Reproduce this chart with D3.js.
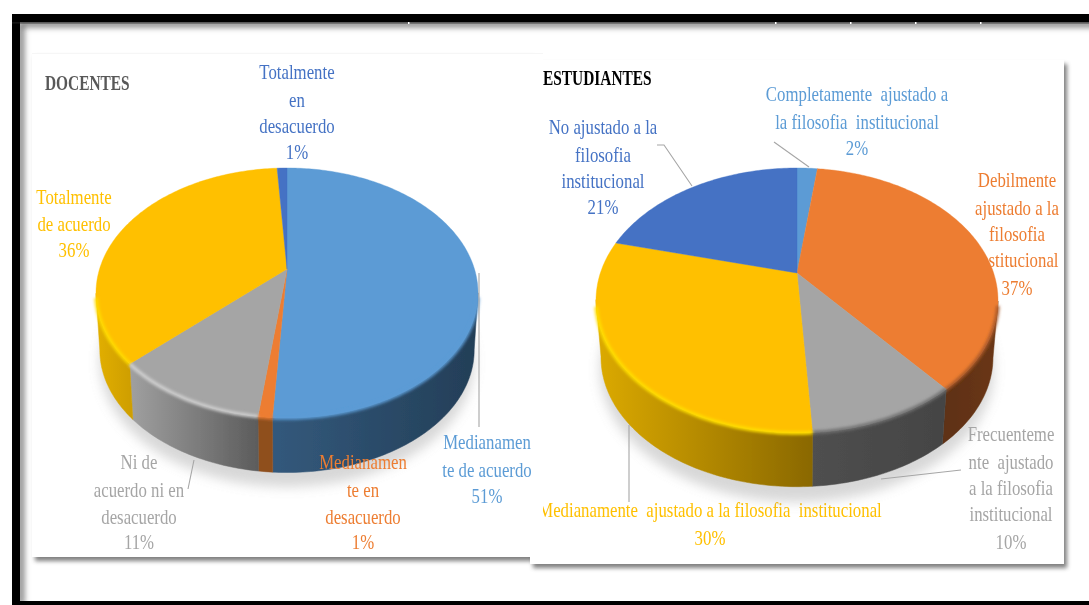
<!DOCTYPE html>
<html><head><meta charset="utf-8">
<style>html,body{margin:0;padding:0;background:#fff;overflow:hidden}svg{display:block}
text{font-family:"Liberation Serif",serif}</style>
<script src="https://cdn.jsdelivr.net/npm/d3@7"></script></head><body>
<script>
// ---- data ----
const docentesValues = [51, 1, 11, 36, 1];
const docentesColors = ["#5b9bd5", "#ed7d31", "#a5a5a5", "#ffc000", "#4472c4"];
const docentesLabelColors = ["#5b9bd5", "#ed7d31", "#a5a5a5", "#ffc000", "#4472c4"];
const docentesSides = [["#33597c","#233e57"],["#8f4f1e","#8f4f1e"],["#a0a0a0","#5c5c5c"],["#e2af00","#cf9f00"],["#2a4678","#2a4678"]];
const docentesRims = ["#5b9bd5","#ed7d31","#d0d0d0","#ffdc00","#4472c4"];
const docentesLabels = [
  ["Medianamen","te de acuerdo","51%"],
  ["Medianamen","te en","desacuerdo","1%"],
  ["Ni de","acuerdo ni en","desacuerdo","11%"],
  ["Totalmente","de acuerdo","36%"],
  ["Totalmente","en","desacuerdo","1%"]];
const docentesLabelX = [487, 363, 139, 74, 297];
const docentesLabelY = [[442,470,496],[462,490,517,542],[462,490,517,542],[197,224,250],[72,100,126,152]];
const docentesLeaders = [[[479,273],[479,427]],[[188,489],[194,460]]];

const estudiantesValues = [2, 37, 10, 30, 21];
const estudiantesColors = ["#5b9bd5", "#ed7d31", "#a5a5a5", "#ffc000", "#4472c4"];
const estudiantesSides = [["#33597c","#33597c"],["#5f3012","#6a3713"],["#4f4f4f","#444444"],["#dcaa00","#8a6800"],["#2a4678","#2a4678"]];
const estudiantesRims = ["#5b9bd5","#a8592a","#707070","#ffdf00","#4472c4"];
const estudiantesLabels = [
  ["Completamente  ajustado a","la filosofia  institucional","2%"],
  ["Debilmente","ajustado a la","filosofia","institucional","37%"],
  ["Frecuenteme","nte  ajustado","a la filosofia","institucional","10%"],
  ["Medianamente  ajustado a la filosofia  institucional","30%"],
  ["No ajustado a la","filosofia","institucional","21%"]];
const estudiantesLabelX = [857, 1017, 1011, 710, 603];
const estudiantesLabelY = [[94,122,148],[180,208,234,260,288],[434,462,488,514,542],[510,538],[127,155,181,207]];
const estudiantesLeaders = [[[774,142],[809,167]],[[961,470],[881,479]],[[629,425],[629,502]],[[657,145],[664,145],[692,186]]];
const pageTicks = [408,775,850,915,980];

const W = 1089, H = 605;
const svg = d3.select("body").append("svg").attr("width",W).attr("height",H).attr("xmlns","http://www.w3.org/2000/svg");
const defs = svg.append("defs");
const blur = (id,s)=>defs.append("filter").attr("id",id).attr("filterUnits","userSpaceOnUse")
  .attr("x",-50).attr("y",-50).attr("width",W+100).attr("height",H+100)
  .append("feGaussianBlur").attr("stdDeviation",s);
blur("b6",6); blur("b3",3); blur("b2",2.2); blur("b04",0.35); blur("b15",1.4);

// ---- page frame ----
svg.append("rect").attr("width",W).attr("height",H).attr("fill","#fff");
const frame = svg.append("g");
frame.append("path").attr("d",d3.line()([[21,H],[21,24],[W+20,24]]))
  .attr("fill","none").attr("stroke","#777").attr("stroke-width",6).attr("filter","url(#b3)");
frame.append("rect").attr("x",12).attr("y",14).attr("width",W).attr("height",8).attr("fill","#000");
frame.append("rect").attr("x",12).attr("y",14).attr("width",8).attr("height",H).attr("fill","#000");
frame.append("rect").attr("x",12).attr("y",22.4).attr("width",W).attr("height",1).attr("fill","#222");
frame.append("rect").attr("x",12).attr("y",601).attr("width",W).attr("height",4).attr("fill","#000");
frame.selectAll(".tick").data(pageTicks).join("rect").attr("x",d=>d).attr("y",22).attr("width",1.5).attr("height",2).attr("fill","#fff");

function panelShadow(x,y,w,h){
  svg.append("rect").attr("x",x+3).attr("y",y+4).attr("width",w).attr("height",h).attr("fill","#555").attr("opacity",.75).attr("filter","url(#b2)");
}
function drawPie(g, cfg){
  const {cx,apexY,top,bottom,rx,depth,shrink,values,colors,sides,rims} = cfg;
  const up = apexY-top, dn = bottom-apexY;
  const k = (dn-up)/(dn+up), a = up*(1+k), b = rx*Math.sqrt(1-k*k);
  const midY = (top+bottom)/2, ry = (bottom-top)/2;
  const proj = t => { const u=Math.sin(t), v=Math.cos(t), w=1+k*v; return [cx+b*u/w, apexY-a*v/w]; };
  const lower = p => [cx+(p[0]-cx)*shrink, midY+(p[1]-midY)*shrink+depth];
  const arcs = d3.pie().sort(null)(values);
  const line = d3.line();
  const step = Math.PI/180;
  const samples = d => d3.range(d.startAngle, d.endAngle, step).concat([d.endAngle]).map(proj);

  // ground shadow
  g.append("ellipse").attr("cx",cx).attr("cy",midY+depth+12).attr("rx",rx*.98).attr("ry",ry)
    .attr("fill","#a8a8a8").attr("opacity",.45).attr("filter","url(#b6)");

  // side wall
  arcs.forEach((d,i)=>{
    const pts = samples(d).filter(p=>p[1]>=midY-1);
    if(pts.length<2) return;
    const low = pts.map(lower).reverse();
    const id = "g"+cfg.name+i;
    const xs = d3.extent(pts,p=>p[0]);
    const gr = defs.append("linearGradient").attr("id",id).attr("gradientUnits","userSpaceOnUse")
      .attr("x1",xs[0]).attr("x2",xs[1]).attr("y1",0).attr("y2",0);
    gr.append("stop").attr("offset",0).attr("stop-color",sides[i][0]);
    gr.append("stop").attr("offset",1).attr("stop-color",sides[i][1]);
    g.append("path").attr("d",line(pts.concat(low))+"Z").attr("fill",`url(#${id})`).attr("stroke",`url(#${id})`).attr("stroke-width",.5);
  });
  // top slices
  arcs.forEach((d,i)=>{
    g.append("path").attr("d",line([[cx,apexY]].concat(samples(d)))+"Z").attr("fill",colors[i])
      .attr("stroke",colors[i]).attr("stroke-width",.4);
  });
  // bevel highlight along the front rim
  arcs.forEach((d,i)=>{
    const pts = samples(d).filter(p=>p[1]>=midY+4);
    if(pts.length<2) return;
    g.append("path").attr("d",line(pts)).attr("fill","none").attr("stroke",rims[i]).attr("stroke-width",3.5).attr("filter","url(#b15)");
  });
}
function drawLabels(g, labels, xs, ys, colors){
  labels.forEach((lines,i)=>lines.forEach((t,j)=>{
    g.append("text").attr("transform",`translate(${xs[i]},${ys[i][j]}) scale(0.84,1)`)
      .attr("text-anchor","middle").attr("dy","0.33em").attr("font-size",20).attr("fill",colors[i])
      .attr("xml:space","preserve").style("white-space","pre").text(t);
  }));
}
function drawLeaders(g, leaders){
  g.selectAll(null).data(leaders).join("path").attr("d",d3.line()).attr("fill","none").attr("stroke","#a6a6a6").attr("stroke-width",1.1);
}
function title(g,t,x,y,c,sx){
  g.append("text").attr("transform",`translate(${x},${y}) scale(${sx},1)`).attr("dy","0.33em")
    .attr("font-size",20).attr("font-weight","bold").attr("fill",c).text(t);
}

// left panel shadow sits under the right panel
panelShadow(32,53,500,504);

// ---- right panel: ESTUDIANTES ----
panelShadow(530,60,534,504);
svg.append("rect").attr("x",530).attr("y",60).attr("width",534).attr("height",504).attr("fill","#fff");
const right = svg.append("g").attr("filter","url(#b04)");
drawLabels(right, estudiantesLabels, estudiantesLabelX, estudiantesLabelY, estudiantesColors);
drawPie(right,{name:"e",cx:797,apexY:273,top:168,bottom:433,rx:201,depth:57,shrink:.975,
  values:estudiantesValues,colors:estudiantesColors,sides:estudiantesSides,rims:estudiantesRims});
drawLeaders(right, estudiantesLeaders);
title(right,"ESTUDIANTES",543,78,"#000",.77);

// ---- left panel: DOCENTES (overlaps the right panel's left edge) ----
svg.append("rect").attr("x",32).attr("y",53).attr("width",511).attr("height",504).attr("fill","#fff");
svg.append("rect").attr("x",32).attr("y",53).attr("width",511).attr("height",.8).attr("fill","#f4f4f4");
const left = svg.append("g").attr("filter","url(#b04)");
drawPie(left,{name:"d",cx:287,apexY:269,top:168,bottom:418,rx:191,depth:57,shrink:.98,
  values:docentesValues,colors:docentesColors,sides:docentesSides,rims:docentesRims});
drawLeaders(left, docentesLeaders);
drawLabels(left, docentesLabels, docentesLabelX, docentesLabelY, docentesLabelColors);
title(left,"DOCENTES",45,83,"#595959",.77);
</script></body></html>
